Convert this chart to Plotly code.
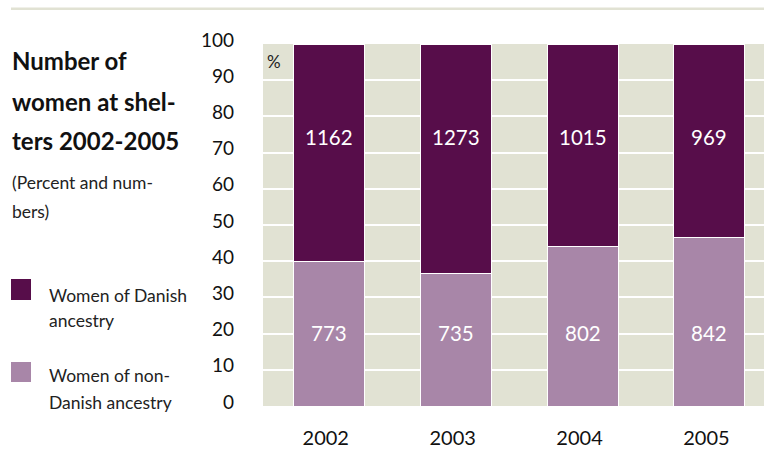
import plotly.graph_objects as go

years = ["2002", "2003", "2004", "2005"]
danish = [1162, 1273, 1015, 969]
non_danish = [773, 735, 802, 842]
y_ticks = [0, 10, 20, 30, 40, 50, 60, 70, 80, 90, 100]

DARK = "#570d4a"
LIGHT = "#a886a8"
BG = "#e1e2d3"
FONT = "Lato"

totals = [a + b for a, b in zip(danish, non_danish)]
pct_non = [100 * b / t for b, t in zip(non_danish, totals)]
pct_dan = [100 * a / t for a, t in zip(danish, totals)]

W, H = 764, 450
L, R, T, B = 263, 764, 44, 406


def px(x):
    return (x - L) / (R - L)


def py(y):
    return (B - y) / (B - T)


fig = go.Figure()
fig.add_bar(x=years, y=pct_non, name="Women of non-Danish ancestry",
            marker=dict(color=LIGHT, line=dict(color="white", width=1)),
            width=0.56, hoverinfo="skip")
fig.add_bar(x=years, y=pct_dan, name="Women of Danish ancestry",
            marker=dict(color=DARK, line=dict(color="white", width=1)),
            width=0.56, hoverinfo="skip")

ann = []
# counts printed inside the bars
for i, (d, n) in enumerate(zip(danish, non_danish)):
    ann.append(dict(x=i, y=74.4, xref="x", yref="y", text=str(d), showarrow=False,
                    font=dict(family=FONT, size=20.5, color="white")))
    ann.append(dict(x=i, y=20.1, xref="x", yref="y", text=str(n), showarrow=False,
                    font=dict(family=FONT, size=20.5, color="white")))

# title block
for txt, yy in [("Number of", 60), ("women at shel-", 101.5), ("ters 2002-2005", 140)]:
    ann.append(dict(x=px(10), y=py(yy), xref="paper", yref="paper", text="<b>%s</b>" % txt,
                    showarrow=False, xanchor="left", yanchor="middle",
                    font=dict(family=FONT, size=24, color="#111111")))
for txt, yy in [("(Percent and num-", 182.7), ("bers)", 211)]:
    ann.append(dict(x=px(10), y=py(yy), xref="paper", yref="paper", text=txt,
                    showarrow=False, xanchor="left", yanchor="middle",
                    font=dict(family=FONT, size=17.5, color="#222222")))

# legend
for txt, yy in [("Women of Danish", 295), ("ancestry", 320.7),
                ("Women of non-", 375.7), ("Danish ancestry", 402)]:
    ann.append(dict(x=px(47), y=py(yy), xref="paper", yref="paper", text=txt,
                    showarrow=False, xanchor="left", yanchor="middle",
                    font=dict(family=FONT, size=17.5, color="#222222")))

ann.append(dict(x=px(265), y=py(61.7), xref="paper", yref="paper", text="%",
                showarrow=False, xanchor="left", yanchor="middle",
                font=dict(family=FONT, size=17, color="#222222")))

shapes = [
    dict(type="line", xref="paper", yref="paper", x0=px(11), x1=px(764),
         y0=py(8.7), y1=py(8.7), line=dict(color=BG, width=2.5)),
    dict(type="rect", xref="paper", yref="paper", x0=px(11), x1=px(31),
         y0=py(279), y1=py(300), fillcolor=DARK, line=dict(width=0)),
    dict(type="rect", xref="paper", yref="paper", x0=px(11), x1=px(31),
         y0=py(362), y1=py(382), fillcolor=LIGHT, line=dict(width=0)),
]

fig.update_layout(
    width=W, height=H, barmode="stack", showlegend=False,
    margin=dict(l=L, r=W - R, t=T, b=H - B, pad=0),
    paper_bgcolor="white", plot_bgcolor=BG,
    annotations=ann, shapes=shapes,
    font=dict(family=FONT, color="#111111"),
)
fig.update_xaxes(type="category", range=[-0.518, 3.43], showgrid=False, zeroline=False,
                 showline=False, ticks="",
                 tickfont=dict(family=FONT, size=20, color="#111111"),
                 ticklabelstandoff=18, ticklabelshift=-3)
fig.update_yaxes(range=[0, 100], tickvals=y_ticks, showgrid=True, gridcolor="white",
                 gridwidth=2, zeroline=False, showline=False, ticks="",
                 tickfont=dict(family=FONT, size=19, color="#111111"),
                 ticklabelstandoff=28, ticklabelshift=-4)

fig.write_html("out.html")
